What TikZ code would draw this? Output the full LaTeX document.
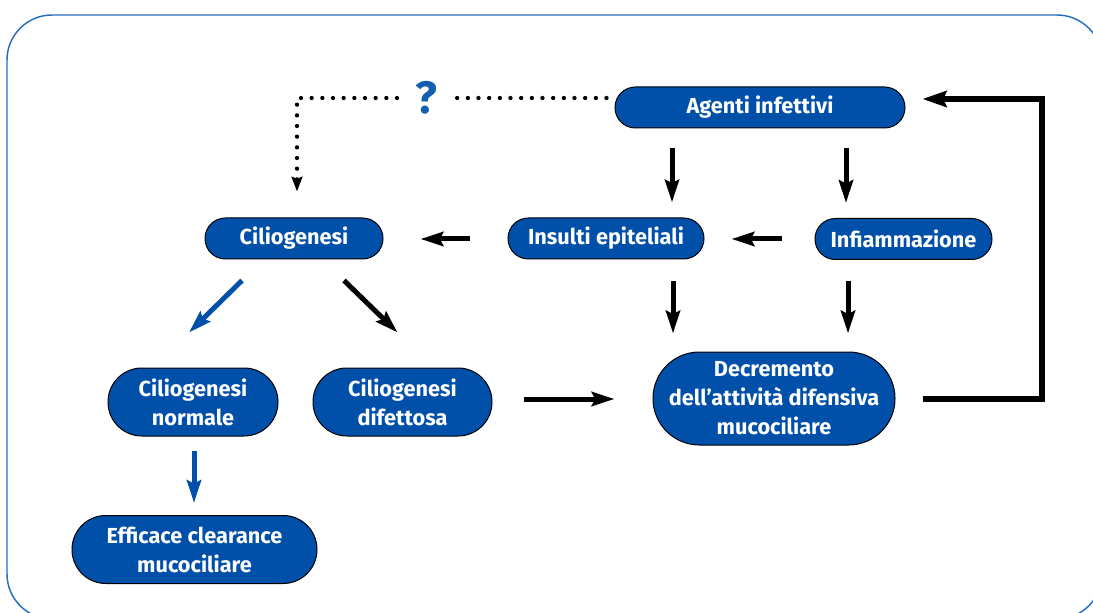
\documentclass[tikz,border=0pt]{standalone}
\usepackage{fontspec}
\setmainfont{Fira Sans}
\usetikzlibrary{arrows.meta,calc}
\definecolor{boxblue}{RGB}{0,80,170}
\definecolor{frameblue}{RGB}{40,110,190}
\definecolor{qblue}{RGB}{20,95,175}
\begin{document}
\begin{tikzpicture}[x=0.75pt,y=-0.75pt,
  pill/.style={draw=black,line width=0.75pt,fill=boxblue,text=white,
    font=\bfseries\fontsize{16.3}{21.75}\selectfont,align=center,inner sep=0pt},
  pillA/.style={pill,minimum height=30.75pt,rounded corners=15.3pt},
  pillB/.style={pill,minimum height=51pt,rounded corners=25.4pt},
  pillC/.style={pill,minimum height=69.75pt,rounded corners=34.8pt},
  arr/.style={line width=3.75pt,-{Stealth[length=17pt,width=10.5pt,inset=2.5pt]}},
  bluearr/.style={arr,draw=boxblue,fill=boxblue},
  fbarr/.style={line width=4.5pt,line join=miter,-{Stealth[length=18pt,width=12pt,inset=2.5pt]}},
  dotline/.style={line width=3.2pt,line cap=round,dash pattern=on 0pt off 8pt},
  dotarr/.style={dotline,-{Stealth[length=11pt,width=8pt,inset=1.5pt]}},
  qmark/.style={text=qblue,font=\bfseries\fontsize{34}{36}\selectfont,inner sep=0pt},
  frame/.style={draw=frameblue,line width=1.1pt,rounded corners=33.75pt}
]
\useasboundingbox (0,0) rectangle (1093,613);
\clip (0,0) rectangle (1093,613);

% outer frame
\draw[frame] (7,15) rectangle (1102,619);

% boxes
\node[pillA,minimum width=217.5pt] (agenti) at (760,107.5) {Agenti infettivi};
\node[pillA,minimum width=132.75pt] (infiamm) at (903.5,239) {Infiammazione};
\node[pillA,minimum width=147pt] (insulti) at (606,238.5) {Insulti epiteliali};
\node[pillA,minimum width=133.5pt] (cilio) at (294,238.5) {Ciliogenesi};
\node[pillB,minimum width=127.5pt] (normale) at (193,402) {Ciliogenesi\\normale};
\node[pillB,minimum width=134.25pt] (difett) at (402.5,402) {Ciliogenesi\\difettosa};
\node[pillC,minimum width=181.5pt] (decr) at (774,398.5) {Decremento\\dell’attività difensiva\\mucociliare};
\node[pillB,minimum width=183.75pt] (effic) at (194.5,549.5) {Efficace clearance\\mucociliare};
\node[qmark] (q) at (426,98) {?};

% causal arrows
\draw[arr] ($(agenti.south)+(-88,20)$) -- ($(insulti.north)+(66,-15)$);
\draw[arr] ($(agenti.south)+(86,20)$) -- ($(infiamm.north)+(-57.5,-15)$);
\draw[arr] ($(infiamm.west)+(-33,0)$) -- ($(insulti.east)+(27,0.5)$);
\draw[arr] ($(insulti.west)+(-38,0.5)$) -- ($(cilio.east)+(37,0.5)$);
\draw[arr] ($(insulti.south)+(67,21)$) -- ($(decr.north)+(-101,-18)$);
\draw[arr] ($(infiamm.south)+(-55.5,20.5)$) -- ($(decr.north)+(74,-18)$);
\draw[bluearr] ($(cilio.south)+(-52,21)$) -- ($(normale.north)+(-4,-35)$);
\draw[arr] ($(cilio.south)+(50,21)$) -- ($(difett.north)+(-5,-35)$);
\draw[bluearr] ($(normale.south)+(1,14)$) -- ($(effic.north)+(-0.5,-12)$);
\draw[arr] ($(difett.east)+(31,-3)$) -- ($(decr.west)+(-38,0.5)$);

% feedback loop
\draw[fbarr] ($(decr.east)+(27,0.5)$) -- ($(decr.east)+(146,0.5)$)
  |- ($(agenti.east)+(17,-8.5)$);

% uncertain link
\draw[dotline] ($(agenti.west)+(-8,-9.5)$) -- ($(q.center)+(26,0)$);
\draw[dotarr] ($(q.center)+(-29,0)$) -| ($(cilio.north)+(3,-26)$);
\end{tikzpicture}
\end{document}
